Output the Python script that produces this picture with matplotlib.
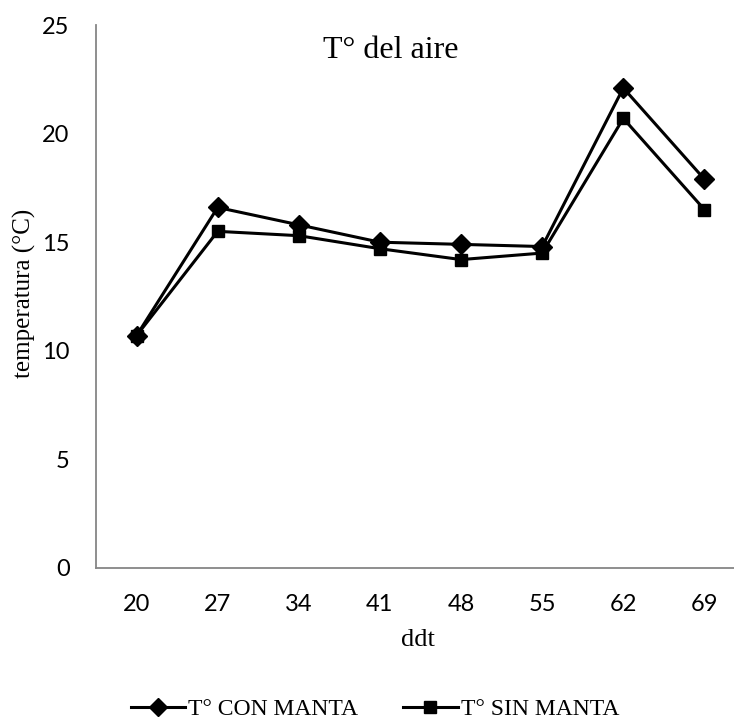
import matplotlib
matplotlib.use('Agg')
import matplotlib.pyplot as plt
from matplotlib.lines import Line2D

ddt = ['20', '27', '34', '41', '48', '55', '62', '69']
con_manta = [10.7, 16.6, 15.8, 15.0, 14.9, 14.8, 22.1, 17.9]
sin_manta = [10.7, 15.5, 15.3, 14.7, 14.2, 14.5, 20.7, 16.5]

fig = plt.figure(figsize=(7.34, 7.22), dpi=100)
# plot area runs a little past the right edge of the figure
ax = fig.add_axes([96/734, 154/722, 649/734, 543/722])

x = range(len(ddt))
ax.plot(x, con_manta, color='black', linewidth=2.2, marker='D', markersize=10,
        markeredgewidth=1, label='T° CON MANTA')
ax.plot(x, sin_manta, color='black', linewidth=2.2, marker='s', markersize=9,
        markeredgewidth=1, label='T° SIN MANTA')

ax.set_xlim(-0.5, len(ddt) - 0.5)
ax.set_ylim(0, 25)
ax.set_yticks([0, 5, 10, 15, 20, 25])
ax.set_xticks(list(x))
ax.set_xticklabels(ddt)
for lab in ax.get_xticklabels() + ax.get_yticklabels():
    lab.set_family('Lato')
    lab.set_fontsize(17)
ax.tick_params(axis='x', length=0, pad=19)
ax.tick_params(axis='y', length=0, pad=19)

for s in ['top', 'right']:
    ax.spines[s].set_visible(False)
for s in ['left', 'bottom']:
    ax.spines[s].set_color('#868686')
    ax.spines[s].set_linewidth(1.3)

serif = 'Liberation Serif'
fig.text(391/734, 1 - 50/722, 'T° del aire', ha='center', va='center',
         family=serif, fontsize=23)
fig.text(24/734, 1 - 293/722, 'temperatura (°C)', ha='center', va='center',
         rotation=90, family=serif, fontsize=18)
fig.text(418/734, 1 - 640/722, 'ddt', ha='center', va='center',
         family=serif, fontsize=19)

handles = [Line2D([], [], color='black', linewidth=2.2, marker='D', markersize=9),
           Line2D([], [], color='black', linewidth=2.2, marker='s', markersize=8)]
fig.legend(handles, ['T° CON MANTA', 'T° SIN MANTA'], loc='center',
           bbox_to_anchor=(375/734, 13/722), ncol=2, frameon=False,
           prop={'family': serif, 'size': 17}, handlelength=2.3,
           handletextpad=0.15, columnspacing=1.9, borderpad=0)

fig.savefig('out.png', dpi=100)
